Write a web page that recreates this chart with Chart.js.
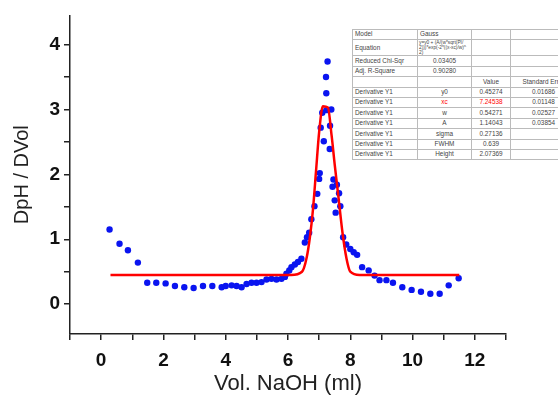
<!DOCTYPE html>
<html>
<head>
<meta charset="utf-8">
<script src="https://cdn.jsdelivr.net/npm/chart.js@4"></script>
<style>
  body { margin: 0; background: #fff; overflow: hidden; }
  .wrap { position: relative; width: 558px; height: 410px; overflow: hidden; }
  .fit-table {
    position: absolute; left: 352px; top: 29px; width: 224px;
    border-collapse: collapse; border: 1.5px solid #555;
    background: #fff; font-family: "Liberation Sans", Arial, sans-serif;
    font-size: 6.4px; color: #444; table-layout: fixed;
  }
  .fit-table td {
    border: 1px solid #bbb; padding: 0 2px; height: 9.4px;
    white-space: nowrap; overflow: hidden; text-align: center; line-height: 6.4px;
  }
  .fit-table td.l { text-align: left; }
  .fit-table td.eq { white-space: normal; font-size: 4.8px; line-height: 5px; padding: 0 1px; word-break: break-all; }
  .fit-table .red { color: #f00; }
</style>
</head>
<body>
<div class="wrap">
  <canvas id="titration" width="558" height="410"></canvas>
  <table class="fit-table">
    <colgroup><col style="width:65px"><col style="width:54px"><col style="width:39px"><col style="width:66px"></colgroup>
    <tr><td class="l">Model</td><td class="l">Gauss</td><td></td><td></td></tr>
    <tr><td class="l" style="height:12px">Equation</td><td class="l eq">y=y0 + (A/(w*sqrt(PI/2)))*exp(-2*((x-xc)/w)^2)</td><td></td><td></td></tr>
    <tr><td class="l">Reduced Chi-Sqr</td><td>0.03405</td><td></td><td></td></tr>
    <tr><td class="l">Adj. R-Square</td><td>0.90280</td><td></td><td></td></tr>
    <tr><td></td><td></td><td>Value</td><td>Standard Error</td></tr>
    <tr><td class="l">Derivative Y1</td><td>y0</td><td>0.45274</td><td>0.01686</td></tr>
    <tr><td class="l">Derivative Y1</td><td class="red">xc</td><td class="red">7.24538</td><td>0.01148</td></tr>
    <tr><td class="l">Derivative Y1</td><td>w</td><td>0.54271</td><td>0.02527</td></tr>
    <tr><td class="l">Derivative Y1</td><td>A</td><td>1.14043</td><td>0.03854</td></tr>
    <tr><td class="l">Derivative Y1</td><td>sigma</td><td>0.27136</td><td></td></tr>
    <tr><td class="l">Derivative Y1</td><td>FWHM</td><td>0.639</td><td></td></tr>
    <tr><td class="l">Derivative Y1</td><td>Height</td><td>2.07369</td><td></td></tr>
  </table>
</div>
<script>
// first derivative of the titration curve
const volume = [
  0.27, 0.59, 0.86, 1.18, 1.48, 1.77, 2.07, 2.37, 2.67, 2.97,
  3.27, 3.57, 3.87, 4.0, 4.19, 4.35, 4.51, 4.67, 4.83, 4.99,
  5.15, 5.31, 5.47, 5.63, 5.79, 5.9, 5.95, 6.04, 6.11, 6.22,
  6.32, 6.43, 6.54, 6.61, 6.68, 6.75, 6.85, 6.94, 7.0, 7.02,
  7.05, 7.1, 7.15, 7.22, 7.23, 7.23, 7.27, 7.34, 7.35, 7.39,
  7.43, 7.46, 7.5, 7.53, 7.57, 7.64, 7.68, 7.77, 7.87, 8.0,
  8.11, 8.22, 8.38, 8.59, 8.78, 8.94, 9.16, 9.37, 9.67, 9.97,
  10.27, 10.57, 10.87, 11.16, 11.48
];
const dpH = [
  1.15, 0.93, 0.83, 0.64, 0.33, 0.33, 0.32, 0.28, 0.26, 0.25,
  0.28, 0.28, 0.26, 0.28, 0.29, 0.28, 0.26, 0.31, 0.33, 0.33,
  0.34, 0.38, 0.39, 0.38, 0.39, 0.42, 0.47, 0.52, 0.57, 0.61,
  0.65, 0.7, 0.95, 1.03, 1.1, 1.31, 1.51, 1.7, 1.93, 2.02,
  2.72, 2.95, 2.51, 3.5, 3.25, 2.99, 3.74, 2.39, 2.75, 3.0,
  1.81, 1.92, 1.6, 1.41, 1.84, 1.71, 1.51, 1.03, 0.92, 0.85,
  0.8, 0.76, 0.57, 0.52, 0.44, 0.37, 0.37, 0.33, 0.26, 0.22,
  0.19, 0.16, 0.16, 0.29, 0.4
];

// Gauss fit curve
const fitVolume = [0.3, 6.1, 6.45, 6.6, 6.7, 6.8, 6.9, 7.0, 7.12, 7.28, 7.4, 7.5, 7.62, 7.75, 7.88, 8.0, 8.3, 11.5];
const fitDpH = [0.45, 0.45, 0.5, 0.72, 1.02, 1.45, 2.05, 2.65, 3.05, 3.03, 2.6, 2.15, 1.65, 1.1, 0.7, 0.5, 0.45, 0.45];

const yTicks = [0, 1, 2, 3, 4];
const xTicks = [0, 2, 4, 6, 8, 10, 12];

const toPoints = (xs, ys) => xs.map((x, i) => ({ x: x, y: ys[i] }));
const near = (a, b) => Math.abs(a - b) < 1e-6;

const axisFont = { family: 'Liberation Sans, Arial, sans-serif', size: 19, weight: 'bold' };
const axisColor = '#222';

new Chart(document.getElementById('titration'), {
  type: 'scatter',
  data: {
    datasets: [
      {
        label: 'Gauss fit',
        data: toPoints(fitVolume, fitDpH),
        showLine: true,
        borderColor: '#ff0000',
        borderWidth: 2.5,
        pointRadius: 0,
        cubicInterpolationMode: 'monotone'
      },
      {
        label: 'DpH / DVol',
        data: toPoints(volume, dpH),
        backgroundColor: '#0a14f0',
        borderColor: '#0a14f0',
        pointRadius: 3.2,
        borderWidth: 0
      }
    ]
  },
  options: {
    responsive: false,
    animation: false,
    layout: { padding: { top: 13, right: 52, left: 0, bottom: 0 } },
    plugins: { legend: { display: false }, tooltip: { enabled: false } },
    scales: {
      x: {
        type: 'linear',
        min: -1,
        max: 13,
        afterFit: (scale) => { scale.height = 76; },
        border: { display: true, color: axisColor, width: 1.5 },
        grid: { drawOnChartArea: false, drawTicks: true, tickLength: 6, color: axisColor, lineWidth: 1.5 },
        ticks: {
          stepSize: 1,
          autoSkip: false,
          maxRotation: 0,
          padding: 9,
          color: '#111',
          font: axisFont,
          callback: (v) => (xTicks.some((t) => near(t, v)) ? String(Math.round(v)) : '')
        },
        title: {
          display: true,
          text: 'Vol. NaOH (ml)',
          color: '#222',
          font: { family: 'Liberation Sans, Arial, sans-serif', size: 22 },
          padding: { top: 0, bottom: 13 }
        }
      },
      y: {
        type: 'linear',
        min: -0.46,
        max: 4.45,
        afterFit: (scale) => { scale.width = 70; },
        afterBuildTicks: (scale) => {
          scale.ticks = scale.ticks.filter((t) => near(t.value * 2, Math.round(t.value * 2)));
        },
        border: { display: true, color: axisColor, width: 1.5 },
        grid: { drawOnChartArea: false, drawTicks: true, tickLength: 6, color: axisColor, lineWidth: 1.5 },
        ticks: {
          stepSize: 0.5,
          padding: 4,
          color: '#111',
          font: axisFont,
          callback: (v) => (yTicks.some((t) => near(t, v)) ? String(Math.round(v)) : '')
        },
        title: {
          display: true,
          text: 'DpH / DVol',
          color: '#222',
          font: { family: 'Liberation Sans, Arial, sans-serif', size: 20 },
          padding: { top: 10, bottom: 0 }
        }
      }
    }
  }
});
</script>
</body>
</html>
